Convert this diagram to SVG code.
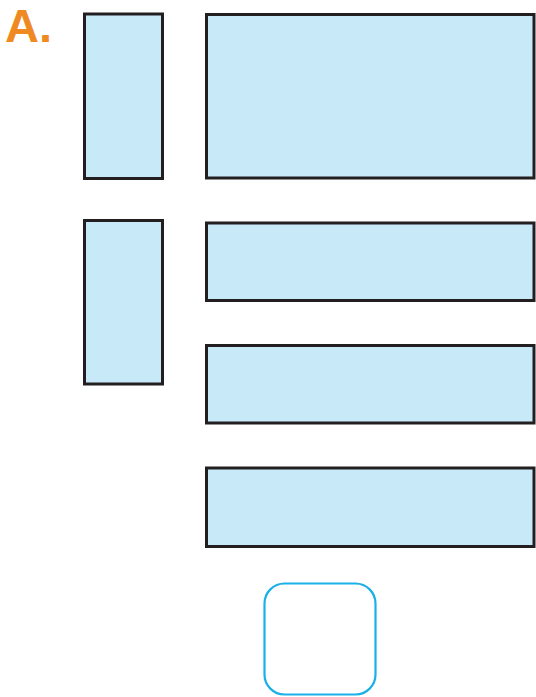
<svg xmlns="http://www.w3.org/2000/svg" width="536" height="697" viewBox="0 0 536 697">
<style>
.box{fill:#c8e9f8;stroke:#231f20;stroke-width:3}
.lbl{font-family:"Liberation Sans",Arial,sans-serif;font-weight:bold;font-size:47px;fill:#ef8a22}
</style>
<rect width="536" height="697" fill="#ffffff"/>
<text class="lbl" x="5" y="41.5">A.</text>
<g id="left1"><rect class="box" x="84.5" y="14" width="78" height="164.5"/></g>
<g id="big"><rect class="box" x="206.5" y="14.5" width="327.5" height="163.5"/></g>
<g id="left2"><rect class="box" x="84.5" y="220.5" width="78" height="163.5"/></g>
<g id="bar1"><rect class="box" x="206.5" y="223" width="327.5" height="77.5"/></g>
<g id="bar2"><rect class="box" x="206.5" y="345.5" width="327.5" height="77.5"/></g>
<g id="bar3"><rect class="box" x="206.5" y="468" width="327.5" height="78.5"/></g>
<g id="answer"><rect x="264.5" y="583.5" width="111" height="111" rx="20" fill="#ffffff" stroke="#1ab0e8" stroke-width="2.2"/></g>
<g id="connectors"></g>
</svg>
